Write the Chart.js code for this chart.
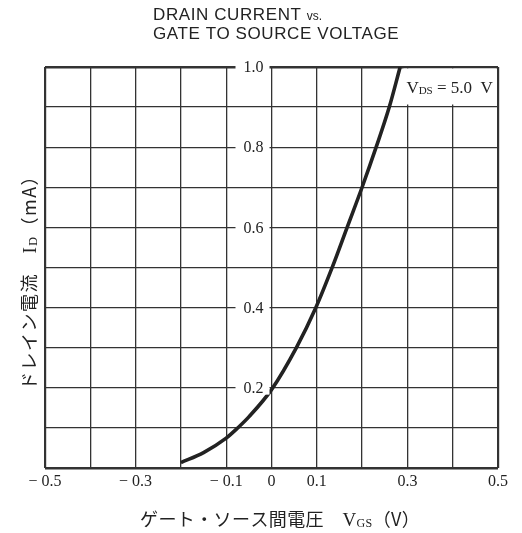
<!DOCTYPE html>
<html>
<head>
<meta charset="utf-8">
<script src="https://cdn.jsdelivr.net/npm/chart.js@4.4.1/dist/chart.umd.min.js"></script>
<style>
  html, body { margin: 0; padding: 0; background: #fff; }
  #wrap { width: 522px; height: 533px; }
</style>
</head>
<body>
<div id="wrap"><canvas id="chart" width="522" height="533"></canvas></div>
<script>
// values
const vgs = [-0.2, -0.15, -0.1, -0.074, -0.05, 0, 0.055, 0.098, 0.134, 0.167, 0.2, 0.231, 0.26, 0.284];
const drainCurrent = [0.013, 0.038, 0.074, 0.1, 0.127, 0.195, 0.3, 0.4, 0.5, 0.6, 0.7, 0.8, 0.9, 1.0];

const xTickValues = [-0.5, -0.3, -0.1, 0, 0.1, 0.3, 0.5];
const xTickLabels = ['− 0.5', '− 0.3', '− 0.1', '0', '0.1', '0.3', '0.5'];
const yTickValues = [0.2, 0.4, 0.6, 0.8, 1.0];
const yTickLabels = ['0.2', '0.4', '0.6', '0.8', '1.0'];

const titleLines = ['DRAIN CURRENT ', 'GATE TO SOURCE VOLTAGE'];
const curveLabel = ['V', 'DS', ' = 5.0  V'];
const xTitle = ['ゲート・ソース間電圧　', 'V', 'GS', '（V）'];
const yTitle = ['ドレイン電流　', 'I', 'D', '（mA）'];

const ink = '#222';
const serif = '"Liberation Serif", "DejaVu Serif", serif';
const jp = '"Noto Sans CJK JP", sans-serif';

const points = vgs.map((v, i) => ({ x: v, y: drainCurrent[i] }));

// draws a run of text pieces, each with its own font and baseline shift
function drawRun(ctx, parts, x, y, fonts, shifts) {
  parts.forEach((p, i) => {
    ctx.font = fonts[i];
    ctx.fillText(p, x, y + (shifts[i] || 0));
    x += ctx.measureText(p).width;
  });
  return x;
}

const annotations = {
  id: 'annotations',
  afterDraw(chart) {
    const ctx = chart.ctx;
    const xs = chart.scales.x, ys = chart.scales.y;
    const x0 = xs.getPixelForValue(0);
    ctx.save();
    ctx.fillStyle = ink;

    // y tick labels sitting on the V=0 line
    ctx.font = '16px ' + serif;
    ctx.textAlign = 'center';
    ctx.textBaseline = 'middle';
    yTickValues.forEach((v, i) => {
      const py = ys.getPixelForValue(v);
      ctx.fillStyle = '#fff';
      ctx.fillRect(x0 - 36, py - 7, 34, 14);
      ctx.fillStyle = ink;
      ctx.fillText(yTickLabels[i], x0 - 18, py + 1);
    });

    // curve label box
    const bx = xs.getPixelForValue(0.3) - 4;
    const top = ys.getPixelForValue(1.0);
    const right = xs.getPixelForValue(0.5);
    ctx.fillStyle = '#fff';
    ctx.fillRect(bx, top + 1.5, right - bx - 1.5, 36);
    ctx.fillStyle = ink;
    ctx.textAlign = 'left';
    ctx.textBaseline = 'alphabetic';
    drawRun(ctx, curveLabel, bx + 3, top + 26,
      ['17px ' + serif, '11px ' + serif, '17px ' + serif], [0, 1, 0]);

    // title
    const sans = '"Liberation Sans", Arial, sans-serif';
    ctx.font = '17px ' + sans;
    ctx.letterSpacing = '0.6px';
    ctx.fillText(titleLines[0], 153, 20);
    const w = ctx.measureText(titleLines[0]).width;
    ctx.font = '12px ' + sans;
    ctx.letterSpacing = '0px';
    ctx.fillText('vs.', 153 + w, 20);
    ctx.font = '17px ' + sans;
    ctx.letterSpacing = '0.6px';
    ctx.fillText(titleLines[1], 153, 39);
    ctx.letterSpacing = '0px';

    // x axis title
    ctx.letterSpacing = '0.4px';
    drawRun(ctx, xTitle, 140, 526,
      ['18px ' + jp, '19px ' + serif, '12px ' + serif, '18px ' + jp], [0, 0, 1, 0]);
    ctx.letterSpacing = '0px';

    // y axis title, rotated
    ctx.translate(36, 390);
    ctx.rotate(-Math.PI / 2);
    ctx.letterSpacing = '1.5px';
    drawRun(ctx, yTitle, 0, 0,
      ['18px ' + jp, '19px ' + serif, '12px ' + serif, '18px ' + jp], [0, 0, 1, 0]);
    ctx.restore();
  }
};

new Chart(document.getElementById('chart'), {
  type: 'scatter',
  data: {
    datasets: [{
      data: points,
      showLine: true,
      borderColor: ink,
      borderWidth: 3.6,
      pointRadius: 0,
      cubicInterpolationMode: 'monotone',
      fill: false
    }]
  },
  options: {
    responsive: false,
    animation: false,
    layout: { padding: { left: 45, right: 24, top: 67, bottom: 38 } },
    plugins: { legend: { display: false }, tooltip: { enabled: false } },
    scales: {
      x: {
        type: 'linear', min: -0.5, max: 0.5,
        afterBuildTicks(scale) {
          scale.ticks = [];
          for (let i = 0; i <= 10; i++) scale.ticks.push({ value: Math.round((-0.5 + i * 0.1) * 10) / 10 });
        },
        grid: {
          color: '#333',
          lineWidth: c => (Math.abs(Math.abs(c.tick.value) - 0.5) < 1e-6 ? 2.2 : 1.3),
          drawTicks: false
        },
        border: { display: false },
        ticks: {
          padding: 4,
          maxRotation: 0,
          autoSkip: false,
          color: ink,
          font: { family: serif, size: 16 },
          callback: v => {
            const k = xTickValues.findIndex(t => Math.abs(t - v) < 1e-6);
            return k >= 0 ? xTickLabels[k] : '';
          }
        }
      },
      y: {
        type: 'linear', min: 0, max: 1,
        afterBuildTicks(scale) {
          scale.ticks = [];
          for (let i = 0; i <= 10; i++) scale.ticks.push({ value: i / 10 });
        },
        grid: {
          color: '#333',
          lineWidth: c => (c.tick.value === 0 || c.tick.value === 1 ? 2.4 : 1.3),
          drawTicks: false
        },
        border: { display: false },
        ticks: { display: false }
      }
    }
  },
  plugins: [annotations]
});
</script>
</body>
</html>
